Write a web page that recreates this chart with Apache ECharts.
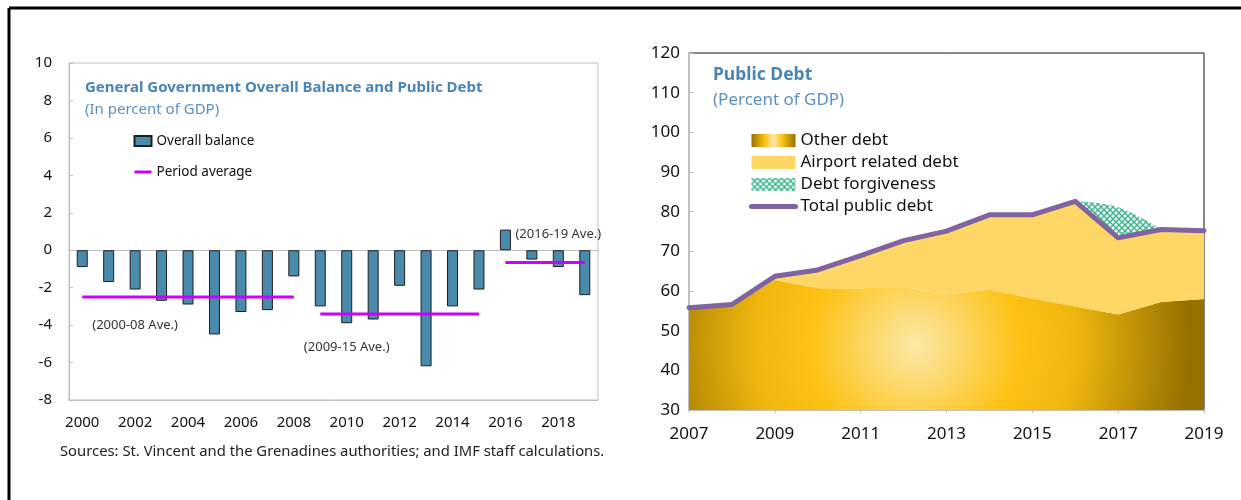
<!DOCTYPE html>
<html>
<head>
<meta charset="utf-8">
<script src="https://cdn.jsdelivr.net/npm/echarts@6/dist/echarts.min.js"></script>
<style>
html, body { margin: 0; padding: 0; background: #fff; }
#main { width: 1241px; height: 500px; }
</style>
</head>
<body>
<div id="main"></div>
<script>
// left panel: overall balance
var balanceYears = ['2000', '2001', '2002', '2003', '2004', '2005', '2006', '2007', '2008', '2009',
    '2010', '2011', '2012', '2013', '2014', '2015', '2016', '2017', '2018', '2019'];
var overallBalance = [-0.9, -1.7, -2.1, -2.7, -2.9, -4.5, -3.3, -3.2, -1.4, -3.0,
    -3.9, -3.7, -1.9, -6.2, -3.0, -2.1, 1.1, -0.5, -0.9, -2.4];
var periodStart = ['2000', '2009', '2016'];
var periodEnd = ['2008', '2015', '2019'];
var periodAverage = [-2.5, -3.4, -0.65];
var periodLabel = ['(2000-08 Ave.)', '(2009-15 Ave.)', '(2016-19 Ave.)'];
var balanceTicks = [-8, -6, -4, -2, 0, 2, 4, 6, 8, 10];

// right panel: public debt
var debtYears = ['2007', '2008', '2009', '2010', '2011', '2012', '2013', '2014', '2015', '2016', '2017', '2018', '2019'];
var otherDebt = [55.5, 56.3, 62.8, 60.7, 60.7, 61.0, 59.1, 60.3, 58.1, 56.1, 54.1, 57.2, 58.0];
var airportDebt = [0.3, 0.3, 0.9, 4.6, 8.2, 11.7, 16.0, 18.9, 21.1, 26.5, 19.3, 18.3, 17.2];
var debtForgiveness = [null, null, null, null, null, null, null, null, null, 0, 7.7, 0, null];
var totalDebt = [55.8, 56.6, 63.7, 65.3, 68.9, 72.7, 75.1, 79.2, 79.2, 82.6, 73.4, 75.5, 75.2];

var FONT = 'Noto Sans';
var GREY = '#bfbfbf';

// hatch pattern for debt forgiveness
var hatch = document.createElement('canvas');
hatch.width = 6;
hatch.height = 6;
var hctx = hatch.getContext('2d');
hctx.strokeStyle = '#3db68e';
hctx.lineWidth = 1.5;
hctx.beginPath();
hctx.moveTo(0, 0); hctx.lineTo(6, 6);
hctx.moveTo(6, 0); hctx.lineTo(0, 6);
hctx.stroke();
var hatchFill = { image: hatch, repeat: 'repeat' };

var otherFill = {
    type: 'radial', x: 915, y: 345, r: 275, global: true,
    colorStops: [
        { offset: 0, color: '#fbe8a8' },
        { offset: 0.38, color: '#fec215' },
        { offset: 0.58, color: '#f0b70e' },
        { offset: 1, color: '#957100' }
    ]
};
var otherLegendFill = {
    type: 'linear', x: 0, y: 0, x2: 1, y2: 0,
    colorStops: [
        { offset: 0, color: '#957100' },
        { offset: 0.3, color: '#fec215' },
        { offset: 0.5, color: '#fbe8a8' },
        { offset: 0.7, color: '#fec215' },
        { offset: 1, color: '#957100' }
    ]
};

var avgSeries = [];
for (var p = 0; p < periodAverage.length; p++) {
    var rowData = balanceYears.map(function (y) {
        return (y >= periodStart[p] && y <= periodEnd[p]) ? periodAverage[p] : null;
    });
    avgSeries.push({
        name: 'Period average',
        type: 'line',
        xAxisIndex: 0,
        yAxisIndex: 0,
        data: rowData,
        symbol: 'none',
        itemStyle: { color: '#cc00ff' },
        lineStyle: { color: '#cc00ff', width: 3 },
        z: 5
    });
}
// period annotations
var notePos = [['2002', -4.0], ['2010', -5.2], ['2018', 0.85]];
avgSeries[0].markPoint = {
    symbolSize: 0,
    silent: true,
    label: {
        show: true, position: 'inside', color: '#333', fontSize: 13, fontFamily: FONT,
        formatter: function (prm) { return prm.name; }
    },
    data: notePos.map(function (c, i) { return { name: periodLabel[i], coord: c }; })
};

var myChart = echarts.init(document.getElementById('main'));
var option = {
    animation: false,
    textStyle: { fontFamily: FONT },
    title: [{
        text: 'General Government Overall Balance and Public Debt',
        subtext: '(In percent of GDP)',
        left: 85,
        top: 79,
        padding: 0,
        itemGap: 4,
        textStyle: { fontSize: 15, fontWeight: 'bold', color: '#4a84b5', lineHeight: 18, fontFamily: FONT },
        subtextStyle: { fontSize: 15, color: '#5b90c4', lineHeight: 18, fontFamily: FONT }
    }, {
        text: 'Public Debt',
        subtext: '(Percent of GDP)',
        left: 713,
        top: 65,
        padding: 0,
        itemGap: 5,
        textStyle: { fontSize: 17.5, fontWeight: 'bold', color: '#4a84b5', lineHeight: 20, fontFamily: FONT },
        subtextStyle: { fontSize: 17, color: '#5b90c4', lineHeight: 20, fontFamily: FONT }
    }],
    legend: [{
        left: 133,
        top: 134,
        orient: 'vertical',
        padding: 0,
        itemWidth: 17,
        itemHeight: 10,
        itemGap: 17,
        textStyle: { fontSize: 13.5, color: '#111', lineHeight: 14, fontFamily: FONT },
        data: [
            { name: 'Overall balance', icon: 'rect' },
            { name: 'Period average', itemStyle: { opacity: 0 }, lineStyle: { width: 3 } }
        ]
    }, {
        left: 749,
        top: 132,
        orient: 'vertical',
        padding: 0,
        itemWidth: 44,
        itemHeight: 13,
        itemGap: 5,
        textStyle: { fontSize: 17, color: '#111', lineHeight: 15, fontFamily: FONT },
        data: [
            { name: 'Other debt', icon: 'rect', itemStyle: { color: otherLegendFill } },
            { name: 'Airport related debt', icon: 'rect', itemStyle: { color: '#fed766' } },
            { name: 'Debt forgiveness', icon: 'rect', itemStyle: { color: hatchFill } },
            { name: 'Total public debt', itemStyle: { opacity: 0 }, lineStyle: { width: 5, cap: 'round' } }
        ]
    }],
    grid: [{
        left: 69, top: 63, width: 529, height: 337,
        show: true, borderColor: GREY, borderWidth: 1
    }, {
        left: 689, top: 53, width: 515, height: 357,
        show: true, borderColor: '#111', borderWidth: 1
    }],
    xAxis: [{
        gridIndex: 0,
        type: 'category',
        data: balanceYears,
        axisLine: { onZero: false, lineStyle: { color: GREY } },
        axisTick: { show: false },
        axisLabel: { interval: 1, fontSize: 15, color: '#111', margin: 15 }
    }, {
        gridIndex: 0,
        type: 'category',
        data: balanceYears,
        position: 'bottom',
        axisLine: { onZero: true, lineStyle: { color: GREY } },
        axisTick: { inside: true, interval: 1, length: 5, lineStyle: { color: GREY } },
        axisLabel: { show: false }
    }, {
        gridIndex: 1,
        type: 'category',
        data: debtYears,
        boundaryGap: false,
        axisLine: { lineStyle: { color: GREY, width: 2 } },
        axisTick: { interval: 1, length: 3, lineStyle: { color: GREY } },
        axisLabel: { interval: 1, fontSize: 17, color: '#111', margin: 16 }
    }],
    yAxis: [{
        gridIndex: 0,
        type: 'value',
        min: balanceTicks[0],
        max: balanceTicks[balanceTicks.length - 1],
        interval: 2,
        axisLine: { show: true, lineStyle: { color: GREY } },
        axisTick: { show: true, inside: true, length: 4, lineStyle: { color: GREY } },
        axisLabel: { fontSize: 15, color: '#111', margin: 17 },
        splitLine: { show: false }
    }, {
        gridIndex: 1,
        type: 'value',
        min: 30,
        max: 120,
        interval: 10,
        axisLine: { show: true, lineStyle: { color: GREY, width: 2 } },
        axisTick: { show: true, inside: true, length: 5, lineStyle: { color: GREY } },
        axisLabel: { fontSize: 17, color: '#111', margin: 9 },
        splitLine: { show: false }
    }],
    series: [{
        name: 'Overall balance',
        type: 'bar',
        xAxisIndex: 0,
        yAxisIndex: 0,
        data: overallBalance,
        barWidth: 11,
        itemStyle: { color: '#4a8aac', borderColor: '#1f1f1f', borderWidth: 1 }
    }].concat(avgSeries).concat([{
        name: 'Other debt',
        type: 'line',
        xAxisIndex: 2,
        yAxisIndex: 1,
        stack: 'debt',
        data: otherDebt,
        symbol: 'none',
        lineStyle: { width: 0 },
        itemStyle: { color: '#fec215' },
        areaStyle: { color: otherFill, opacity: 1 }
    }, {
        name: 'Airport related debt',
        type: 'line',
        xAxisIndex: 2,
        yAxisIndex: 1,
        stack: 'debt',
        data: airportDebt,
        symbol: 'none',
        lineStyle: { width: 0 },
        itemStyle: { color: '#fed766' },
        areaStyle: { color: '#fed766', opacity: 1 }
    }, {
        name: 'Debt forgiveness',
        type: 'line',
        xAxisIndex: 2,
        yAxisIndex: 1,
        stack: 'debt',
        data: debtForgiveness,
        symbol: 'none',
        smooth: 0.4,
        lineStyle: { width: 0 },
        itemStyle: { color: '#3db68e' },
        areaStyle: { color: hatchFill, opacity: 1 }
    }, {
        name: 'Total public debt',
        type: 'line',
        xAxisIndex: 2,
        yAxisIndex: 1,
        data: totalDebt,
        symbol: 'none',
        itemStyle: { color: '#8064a2' },
        lineStyle: { color: '#8064a2', width: 5, join: 'round', cap: 'round' },
        z: 5
    }]),
    graphic: [{
        type: 'line',
        shape: { x1: 9, y1: 8, x2: 1241, y2: 8 },
        style: { stroke: '#000', lineWidth: 3 }
    }, {
        type: 'line',
        shape: { x1: 9, y1: 8, x2: 9, y2: 500 },
        style: { stroke: '#000', lineWidth: 3 }
    }, {
        type: 'text',
        left: 60,
        top: 444,
        style: {
            text: 'Sources: St. Vincent and the Grenadines authorities; and IMF staff calculations.',
            fontSize: 14.8, fill: '#222', fontFamily: FONT
        }
    }]
};
myChart.setOption(option);
</script>
</body>
</html>
